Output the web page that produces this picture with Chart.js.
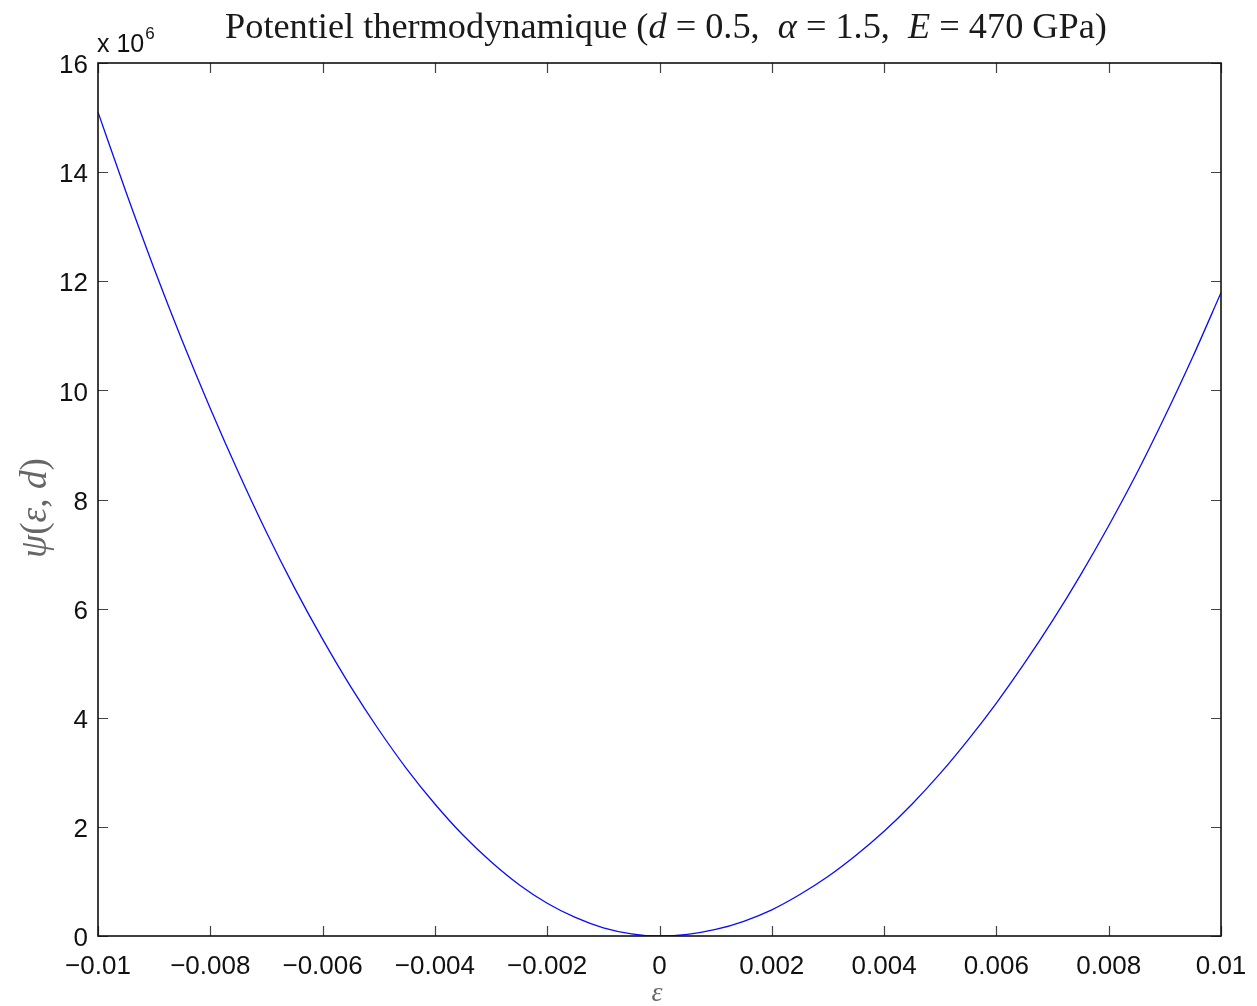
<!DOCTYPE html>
<html><head><meta charset="utf-8">
<script src="https://cdn.jsdelivr.net/npm/chart.js@4/dist/chart.umd.min.js"></script>
<style>html,body{margin:0;padding:0;background:#fff;}#wrap{width:1257px;height:1006px;}</style>
</head><body><div id="wrap"><canvas id="c" width="1257" height="1006"></canvas></div>
<script>
// ---- data ----
const strain = [-0.0100,-0.0095,-0.0090,-0.0085,-0.0080,-0.0075,-0.0070,-0.0065,-0.0060,-0.0055,
  -0.0050,-0.0045,-0.0040,-0.0035,-0.0030,-0.0025,-0.0020,-0.0015,-0.0010,-0.0005,
  0.0000,0.0005,0.0010,0.0015,0.0020,0.0025,0.0030,0.0035,0.0040,0.0045,
  0.0050,0.0055,0.0060,0.0065,0.0070,0.0075,0.0080,0.0085,0.0090,0.0095,0.0100];
// psi(eps,d) in units of 1e6
const psiMillions = [15.10,13.63,12.23,10.91,9.67,8.50,7.40,6.38,5.44,4.57,
  3.78,3.06,2.42,1.85,1.36,0.94,0.60,0.34,0.15,0.04,
  0.00,0.03,0.12,0.27,0.48,0.76,1.09,1.48,1.92,2.42,
  2.98,3.60,4.27,5.00,5.78,6.62,7.52,8.48,9.52,10.62,11.79];
const xTickValues = [-0.01,-0.008,-0.006,-0.004,-0.002,0,0.002,0.004,0.006,0.008,0.01];
const xTickLabels = ["\u22120.01","\u22120.008","\u22120.006","\u22120.004","\u22120.002","0","0.002","0.004","0.006","0.008","0.01"];
const yTickValues = [0,2,4,6,8,10,12,14,16];
const yTickLabels = ["0","2","4","6","8","10","12","14","16"];
const titleParts = [["Potentiel thermodynamique (",false],["d",true],[" = 0.5,  ",false],["\u03B1",true],[" = 1.5,  ",false],["E",true],[" = 470 GPa)",false]];
const yTitleParts = [["\u03C8",true],["(",false],["\u03B5",true],[", ",false],["d",true],[")",false]];
const xTitle = "\u03B5";
const exponentBase = "x 10";
const exponentPower = "6";

const SANS = "'Liberation Sans', Arial, Helvetica, sans-serif";
const SERIF = "'Liberation Serif', 'DejaVu Serif', serif";

function drawParts(ctx, parts, size, cx, cy, fitWidth) {
  let sz = size;
  const measure = (s) => {
    let w = 0;
    for (const [t, it] of parts) { ctx.font = (it ? 'italic ' : '') + s + 'px ' + SERIF; w += ctx.measureText(t).width; }
    return w;
  };
  if (fitWidth) { sz = size * fitWidth / measure(size); }
  const total = measure(sz);
  let x = cx - total / 2;
  ctx.textBaseline = 'middle'; ctx.textAlign = 'left';
  for (const [t, it] of parts) {
    ctx.font = (it ? 'italic ' : '') + sz + 'px ' + SERIF;
    ctx.fillText(t, x, cy);
    x += ctx.measureText(t).width;
  }
}

const decor = {
  id: 'decor',
  afterDraw(chart) {
    const ctx = chart.ctx, a = chart.chartArea, xs = chart.scales.x, ys = chart.scales.y;
    ctx.save();
    // tick marks (inward, all four sides)
    ctx.strokeStyle = '#444'; ctx.lineWidth = 1.2;
    ctx.beginPath();
    for (const v of xTickValues) {
      const p = Math.round(xs.getPixelForValue(v)) + 0.5;
      ctx.moveTo(p, a.bottom); ctx.lineTo(p, a.bottom - 10);
      ctx.moveTo(p, a.top); ctx.lineTo(p, a.top + 10);
    }
    for (const v of yTickValues) {
      const p = Math.round(ys.getPixelForValue(v)) + 0.5;
      ctx.moveTo(a.left, p); ctx.lineTo(a.left + 10, p);
      ctx.moveTo(a.right, p); ctx.lineTo(a.right - 10, p);
    }
    ctx.stroke();
    // box
    ctx.strokeStyle = '#111'; ctx.lineWidth = 1.6;
    ctx.strokeRect(a.left, a.top, a.right - a.left, a.bottom - a.top);
    // title
    ctx.fillStyle = '#1a1a1a';
    drawParts(ctx, titleParts, 26, 666, 28, 882);
    // exponent label
    ctx.fillStyle = '#111';
    ctx.textBaseline = 'alphabetic'; ctx.textAlign = 'left';
    ctx.font = '25px ' + SANS;
    ctx.fillText(exponentBase, 97, 52);
    const w = ctx.measureText(exponentBase).width;
    ctx.font = '17px ' + SANS;
    ctx.fillText(exponentPower, 97 + w + 1, 39);
    // axis titles
    ctx.fillStyle = '#666';
    ctx.save();
    ctx.translate(36, 508); ctx.rotate(-Math.PI / 2);
    drawParts(ctx, yTitleParts, 30, 0, 0, 100);
    ctx.restore();
    drawParts(ctx, [[xTitle, true]], 28, 657, 994);
    ctx.restore();
  }
};

new Chart(document.getElementById('c'), {
  type: 'line',
  data: {
    datasets: [{
      data: strain.map((x, i) => ({ x: x, y: psiMillions[i] })),
      borderColor: 'rgb(10,10,255)',
      borderWidth: 1.3,
      pointRadius: 0,
      fill: false,
      cubicInterpolationMode: 'monotone'
    }]
  },
  options: {
    responsive: false,
    animation: false,
    devicePixelRatio: 1,
    layout: { padding: { left: 0, right: 36, top: 63, bottom: 0 } },
    plugins: { legend: { display: false }, tooltip: { enabled: false }, title: { display: false } },
    scales: {
      x: {
        type: 'linear', min: -0.01, max: 0.01,
        afterBuildTicks(s) { s.ticks = xTickValues.map(v => ({ value: v })); },
        afterFit(s) { s.height = 70; s.paddingLeft = 0; s.paddingRight = 0; },
        grid: { display: false, drawTicks: false },
        border: { display: false },
        ticks: {
          padding: 15, color: '#111', maxRotation: 0, autoSkip: false,
          font: { family: SANS, size: 26 },
          callback(v, i) { return xTickLabels[i]; }
        }
      },
      y: {
        type: 'linear', min: 0, max: 16,
        afterBuildTicks(s) { s.ticks = yTickValues.map(v => ({ value: v })); },
        afterFit(s) { s.width = 98; s.paddingTop = 0; s.paddingBottom = 0; },
        grid: { display: false, drawTicks: false },
        border: { display: false },
        ticks: {
          padding: 10, color: '#111', autoSkip: false, labelOffset: 3,
          font: { family: SANS, size: 26 },
          callback(v, i) { return yTickLabels[i]; }
        }
      }
    }
  },
  plugins: [decor]
});
</script></body></html>
